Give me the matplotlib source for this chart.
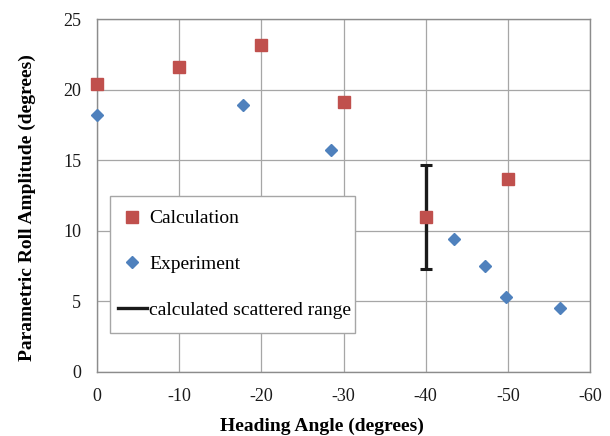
import matplotlib
matplotlib.use("Agg")
import matplotlib.pyplot as plt
from matplotlib.patches import Rectangle

plt.rcParams['font.family'] = ['Liberation Serif', 'DejaVu Serif']

# data
calc_angle = [0, -10, -20, -30, -40, -50]
calc_roll = [20.4, 21.6, 23.2, 19.1, 11.0, 13.7]

exp_angle = [0, -17.7, -28.5, -43.5, -47.2, -49.8, -56.4]
exp_roll = [18.2, 18.9, 15.7, 9.4, 7.5, 5.3, 4.5]

range_angle = [-40]
range_low = [7.3]
range_high = [14.7]

xticks = [0, -10, -20, -30, -40, -50, -60]
yticks = [0, 5, 10, 15, 20, 25]

fig = plt.figure(figsize=(6.1, 4.36), dpi=100)
ax = fig.add_axes([0.1595, 0.1468, 0.8075, 0.8092])

grid_c = '#a6a6a6'
ax.set_axisbelow(True)
ax.grid(True, color=grid_c, linewidth=0.9)

mid = [(lo + hi) / 2 for lo, hi in zip(range_low, range_high)]
half = [(hi - lo) / 2 for lo, hi in zip(range_low, range_high)]
eb = ax.errorbar(range_angle, mid, yerr=half, fmt='none', ecolor='#1a1a1a',
                 elinewidth=2.4, capsize=4.5, capthick=2.2, zorder=2)

c, = ax.plot(calc_angle, calc_roll, 's', color='#c0504d', markersize=8,
             linestyle='none', zorder=3, clip_on=False)
e, = ax.plot(exp_angle, exp_roll, 'D', color='#4f81bd', markersize=6,
             linestyle='none', zorder=3, clip_on=False)
line_handle, = ax.plot([], [], color='#1a1a1a', linewidth=2.4)

ax.set_xlim(0, -60)
ax.set_ylim(0, 25)
ax.set_xticks(xticks)
ax.set_yticks(yticks)
ax.set_xticklabels([str(t) for t in xticks])
ax.tick_params(labelsize=13, length=0, pad=11.5, colors='#1a1a1a')
for s in ax.spines.values():
    s.set_color('#8c8c8c')
    s.set_linewidth(1.0)

ax.set_xlabel('Heading Angle (degrees)', fontsize=14, fontweight='bold')
ax.set_ylabel('Parametric Roll Amplitude (degrees)', fontsize=14, fontweight='bold')
ax.xaxis.set_label_coords(0.456, -0.13)
ax.yaxis.set_label_coords(-0.125, 0.467)

# legend box drawn by hand so it can be taller than its contents
box = (0.026, 0.11, 0.497, 0.39)
ax.add_patch(Rectangle(box[:2], box[2], box[3], transform=ax.transAxes,
                       facecolor='white', edgecolor='#a6a6a6', linewidth=1.0,
                       zorder=5))
leg = ax.legend([c, e, line_handle], ['Calculation', 'Experiment', 'calculated scattered range'],
                loc='center left', bbox_to_anchor=box,
                fontsize=14, frameon=False, labelspacing=1.45, handlelength=1.5,
                handletextpad=0.1, borderpad=0.4, borderaxespad=0)
leg.set_zorder(6)

fig.savefig('out.png', dpi=100)
